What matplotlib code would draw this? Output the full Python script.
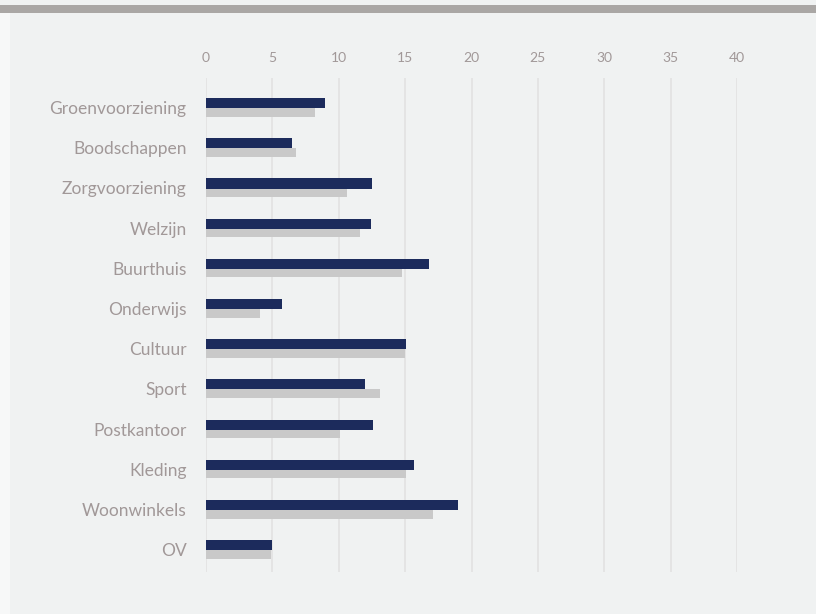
import matplotlib
matplotlib.use("Agg")
import matplotlib.pyplot as plt
from matplotlib.patches import Rectangle
import numpy as np

categories = ["Groenvoorziening", "Boodschappen", "Zorgvoorziening", "Welzijn",
              "Buurthuis", "Onderwijs", "Cultuur", "Sport", "Postkantoor",
              "Kleding", "Woonwinkels", "OV"]
series_dark = [9.0, 6.5, 12.5, 12.4, 16.8, 5.7, 15.1, 12.0, 12.6, 15.7, 19.0, 5.0]
series_grey = [8.2, 6.8, 10.6, 11.6, 14.8, 4.1, 15.0, 13.1, 10.1, 15.1, 17.1, 4.9]
x_ticks = [0, 5, 10, 15, 20, 25, 30, 35, 40]

BG = "#f0f2f2"
NAVY = "#1c2b5c"
GREY = "#c9c9c9"
TEXT = "#a19898"
GRID = "#e3e3e3"

fig = plt.figure(figsize=(8.16, 6.14), dpi=100)
fig.patch.set_facecolor(BG)

# header band and lighter left margin
fig.add_artist(Rectangle((0, 1 - 13 / 614), 1, 8 / 614, transform=fig.transFigure,
                         color="#aaa7a5", lw=0, zorder=0))
fig.add_artist(Rectangle((0, 0), 10 / 816, 1 - 13 / 614, transform=fig.transFigure,
                         color="#f7f8f8", lw=0, zorder=0))

ax = fig.add_axes([206 / 816, 1 - 572 / 614, (737 - 206) / 816, (572 - 78) / 614])
ax.set_facecolor(BG)
ax.patch.set_alpha(0)

y = np.arange(len(categories))
for t in x_ticks:
    ax.axvline(t, color=GRID, lw=1.3, zorder=0)

ax.barh(y + 0.12, series_grey, height=0.21, color=GREY, zorder=2)
ax.barh(y - 0.11, series_dark, height=0.25, color=NAVY, zorder=3)

ax.set_xlim(0, 40)
ax.set_ylim(11.555, -0.734)
ax.xaxis.tick_top()
ax.set_xticks(x_ticks)
ax.set_xticklabels([str(t) for t in x_ticks])
ax.set_yticks(y)
ax.set_yticklabels(categories)
ax.tick_params(axis="both", length=0, colors=TEXT)
ax.tick_params(axis="x", pad=10, labelsize=10)
ax.tick_params(axis="y", pad=14, labelsize=12.5)
for lab in ax.get_xticklabels() + ax.get_yticklabels():
    lab.set_fontfamily("Lato")
for s in ax.spines.values():
    s.set_visible(False)

fig.savefig("out.png", dpi=100, facecolor=BG)
